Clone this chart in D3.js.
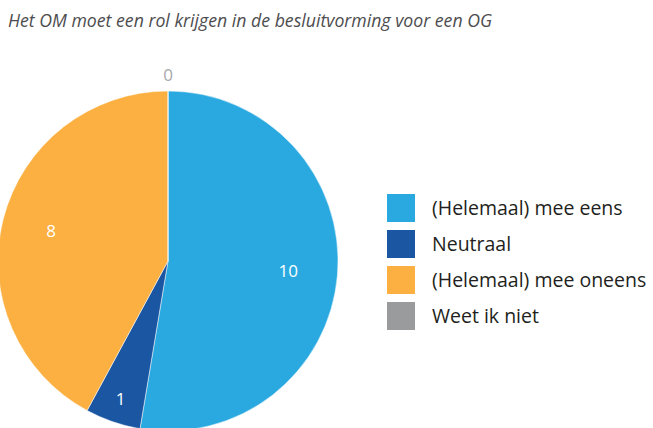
<!DOCTYPE html>
<html>
<head>
<meta charset="utf-8">
<script src="https://cdn.jsdelivr.net/npm/d3@7"></script>
<style>
  body { margin: 0; background: #fff; }
  svg { display: block; }
</style>
</head>
<body>
<script>
// chart data
const title = "Het OM moet een rol krijgen in de besluitvorming voor een OG";
const categories = ["(Helemaal) mee eens", "Neutraal", "(Helemaal) mee oneens", "Weet ik niet"];
const counts = [10, 1, 8, 0];
const colors = ["#29a9e0", "#1b56a3", "#fbb041", "#999b9c"];

const width = 653, height = 428;
const cx = 168, cy = 261, radius = 170;

const svg = d3.select("body").append("svg")
  .attr("width", width)
  .attr("height", height);

// title
svg.append("text")
  .attr("x", 8)
  .attr("y", 27)
  .attr("fill", "#4d4d4f")
  .style("font-family", "'Open Sans', sans-serif")
  .style("font-style", "italic")
  .style("font-size", "17.7px")
  .text(title);

const data = categories.map((c, i) => ({ name: c, value: counts[i], color: colors[i] }));

const pie = d3.pie().sort(null).value(d => d.value);
const arcs = pie(data);

const arc = d3.arc().innerRadius(0).outerRadius(radius);

const g = svg.append("g").attr("transform", `translate(${cx}, ${cy})`);

g.selectAll("path")
  .data(arcs)
  .enter()
  .append("path")
  .attr("d", arc)
  .attr("fill", d => d.data.color)
  .attr("stroke", "#fff")
  .attr("stroke-width", 0.5);

// labels: inside for normal slices, small slices pushed outwards, empty ones outside
function labelRadius(d) {
  const frac = (d.endAngle - d.startAngle) / (2 * Math.PI);
  if (frac === 0) return radius + 16;
  if (frac < 0.1) return radius * 0.86;
  return radius * 0.71;
}

g.selectAll("text.val")
  .data(arcs)
  .enter()
  .append("text")
  .attr("class", "val")
  .attr("x", d => {
    const a = (d.startAngle + d.endAngle) / 2;
    return Math.sin(a) * labelRadius(d);
  })
  .attr("y", d => {
    const a = (d.startAngle + d.endAngle) / 2;
    return -Math.cos(a) * labelRadius(d);
  })
  .attr("text-anchor", "middle")
  .attr("dy", "0.35em")
  .attr("fill", d => d.value === 0 ? "#a7a9ac" : "#fff")
  .style("font-family", "'Open Sans', sans-serif")
  .style("font-size", "17px")
  .text(d => d.data.value);

// legend
const legend = svg.append("g").attr("transform", "translate(387, 194)");
const rowH = 36;

const item = legend.selectAll("g")
  .data(data)
  .enter()
  .append("g")
  .attr("transform", (d, i) => `translate(0, ${i * rowH})`);

item.append("rect")
  .attr("width", 28)
  .attr("height", 28)
  .attr("fill", d => d.color);

item.append("text")
  .attr("x", 45)
  .attr("y", 21)
  .attr("fill", "#231f20")
  .style("font-family", "'Open Sans', sans-serif")
  .style("font-size", "19.5px")
  .text(d => d.name);
</script>
</body>
</html>
